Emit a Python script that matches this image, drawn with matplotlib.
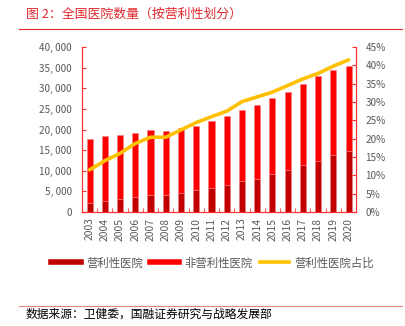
import numpy as np
import matplotlib.pyplot as plt
from matplotlib.lines import Line2D
from matplotlib.ticker import FuncFormatter, MultipleLocator

plt.rcParams['font.family'] = ['Noto Sans CJK SC', 'DejaVu Sans']

years = [str(y) for y in range(2003, 2021)]
for_profit = [2100, 2590, 3070, 3720, 4040, 4200, 4520, 5250, 5740,
              6460, 7510, 8080, 9130, 10100, 11300, 12440, 13730, 14700]
non_profit = [15664, 15806, 15633, 15526, 15812, 15512, 15771, 15668, 16239,
              16710, 17199, 17780, 18457, 19040, 19756, 20569, 20624, 20694]
share = [11.5, 14.0, 16.0, 18.7, 20.4, 20.4, 22.4, 24.4, 26.0,
         27.5, 30.1, 31.4, 32.7, 34.5, 36.3, 37.8, 39.8, 41.5]

RED = '#FF0000'
DARK = '#C00000'
GOLD = '#FFC000'
GREY = '#595959'
SPINE = '#FF3030'

fig = plt.figure(figsize=(4.05, 3.26), dpi=100)
ax = fig.add_axes([0.2017, 0.3497, 0.677, 0.506])
x = np.arange(len(years))
ax.bar(x, for_profit, width=0.4, color=DARK, edgecolor='#F08080', linewidth=0.4)
ax.bar(x, non_profit, width=0.4, bottom=for_profit, color=RED,
       edgecolor='#F08080', linewidth=0.4)
ax.set_xlim(-0.52, 17.48)
ax.set_ylim(0, 40000)
ax.yaxis.set_major_locator(MultipleLocator(5000))
ax.yaxis.set_major_formatter(FuncFormatter(lambda v, p: '{:,.0f}'.format(v).replace(',', ', ')))
ax.set_xticks(x)
ax.set_xticklabels(years, rotation=90)
ax.set_xticks(x[:-1] + 0.5, minor=True)
ax.tick_params(axis='x', which='major', length=0, pad=4, labelsize=7.4, labelcolor=GREY)
ax.tick_params(axis='x', which='minor', length=3, direction='in', color=SPINE)
ax.tick_params(axis='y', length=3, direction='in', color=SPINE, pad=7,
               labelsize=7.2, labelcolor=GREY)

ax2 = ax.twinx()
ax2.plot(x, share, color=GOLD, linewidth=2.6, solid_capstyle='round')
ax2.set_ylim(0, 45)
ax2.yaxis.set_major_locator(MultipleLocator(5))
ax2.yaxis.set_major_formatter(FuncFormatter(lambda v, p: '{:.0f}%'.format(v)))
ax2.tick_params(axis='y', length=3, direction='in', color=SPINE, pad=7,
                labelsize=7.2, labelcolor=GREY)

for a in (ax, ax2):
    a.spines['top'].set_visible(False)
    for s in ('left', 'right', 'bottom'):
        a.spines[s].set_color(SPINE)
        a.spines[s].set_linewidth(0.8)

handles = [Line2D([], [], color=DARK, linewidth=4),
           Line2D([], [], color=RED, linewidth=4),
           Line2D([], [], color=GOLD, linewidth=2.6)]
labels = ['营利性医院', '非营利性医院', '营利性医院占比']
fig.legend(handles, labels, loc='center', bbox_to_anchor=(0.525, 0.194), ncol=3,
           frameon=False, fontsize=8.2, handlelength=2.6, handletextpad=0.45,
           columnspacing=0.6, labelcolor=GREY)

fig.text(0.065, 0.957, '图 2：全国医院数量（按营利性划分）', color='#E0282E',
         fontsize=9.3, va='center', ha='left')
fig.add_artist(Line2D([0.047, 0.993], [0.911, 0.911], color='#E0282E', linewidth=0.8))
fig.add_artist(Line2D([0.047, 0.993], [0.062, 0.062], color='#E88080', linewidth=0.8))
fig.text(0.062, 0.037, '数据来源：卫健委，国融证券研究与战略发展部', color='black',
         fontsize=8.5, va='center', ha='left')

fig.savefig('out.png', dpi=100)
